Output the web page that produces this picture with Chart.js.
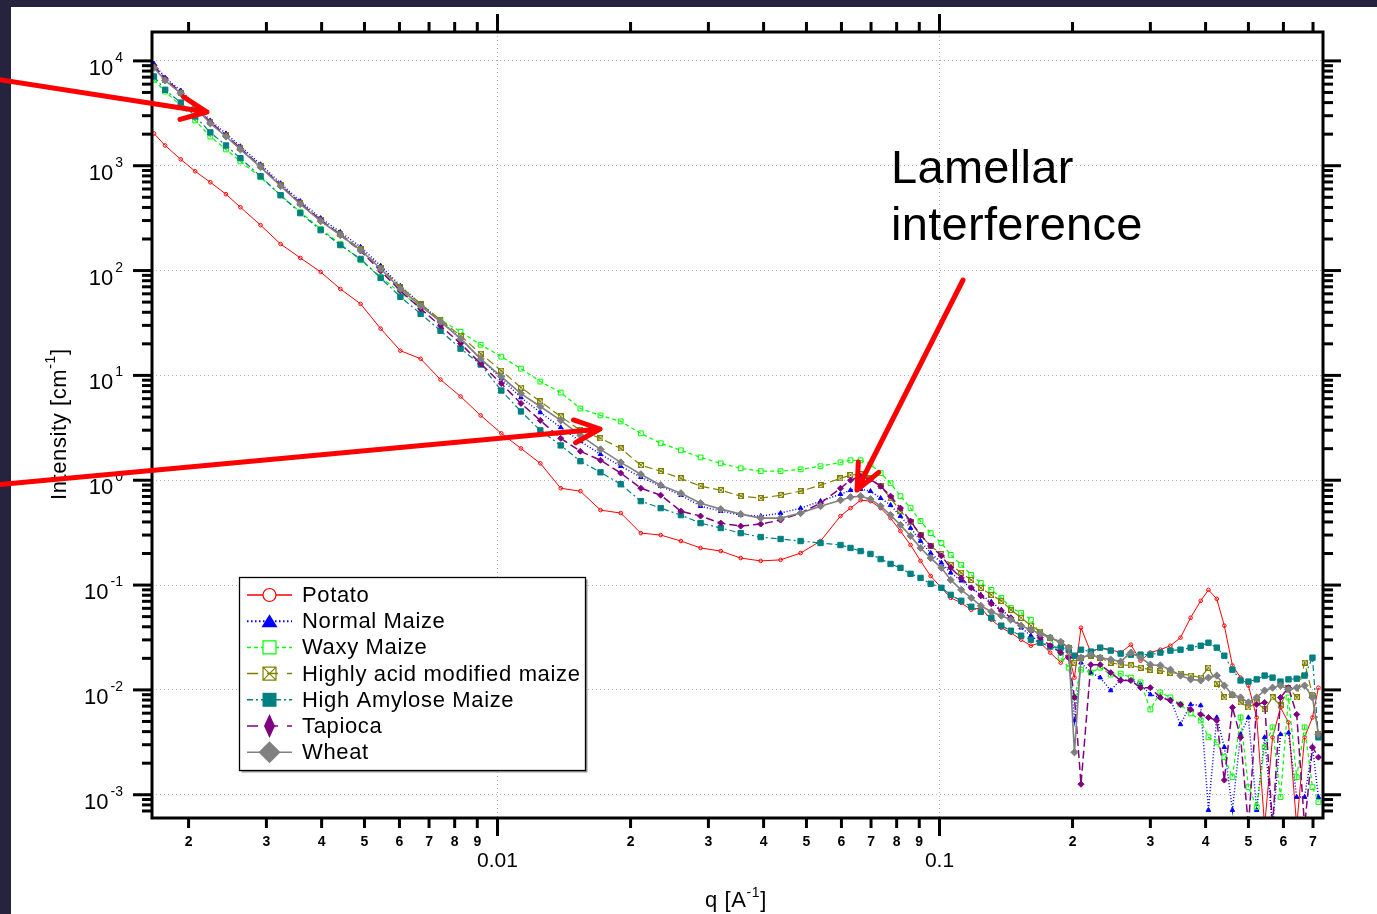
<!DOCTYPE html>
<html>
<head>
<meta charset="utf-8">
<script src="https://cdn.jsdelivr.net/npm/chart.js@4.4.1/dist/chart.umd.min.js"></script>
<style>
  html, body { margin: 0; padding: 0; background: #26233f; overflow: hidden; }
  #wrap { width: 1377px; height: 914px; }
</style>
</head>
<body>
<div id="wrap"><canvas id="saxs" width="1377" height="914"></canvas></div>
<script>
// q [1/A], shared by all samples
const q = [0.00167, 0.00177, 0.00192, 0.00207, 0.00224, 0.00243, 0.00262, 0.00291, 0.00323, 0.00358,
  0.00398, 0.00441, 0.00490, 0.00544, 0.00603, 0.00670, 0.00743, 0.00825, 0.00916, 0.0102,
  0.0113, 0.0125, 0.0139, 0.0154, 0.0171, 0.0190, 0.0211, 0.0234, 0.0260, 0.0288,
  0.0320, 0.0355, 0.0394, 0.0437, 0.0485, 0.0538, 0.0597, 0.0629, 0.0663, 0.0698,
  0.0736, 0.0775, 0.0816, 0.0860, 0.0906, 0.0955, 0.101, 0.106, 0.112, 0.118,
  0.124, 0.131, 0.138, 0.145, 0.153, 0.161, 0.169, 0.178, 0.188, 0.196,
  0.202, 0.209, 0.220, 0.231, 0.244, 0.257, 0.271, 0.285, 0.300, 0.316,
  0.333, 0.351, 0.370, 0.390, 0.406, 0.424, 0.441, 0.460, 0.480, 0.500,
  0.522, 0.544, 0.567, 0.591, 0.616, 0.643, 0.670, 0.698, 0.720]

// intensity [1/cm]
const potato = [2030, 1560, 1150, 885, 695, 535, 402, 271, 179, 132,
  97.0, 66.8, 48.1, 27.9, 17.2, 14.4, 9.12, 6.29, 4.15, 2.80,
  2.01, 1.45, 0.839, 0.786, 0.519, 0.486, 0.313, 0.300, 0.263, 0.226,
  0.211, 0.181, 0.170, 0.174, 0.202, 0.263, 0.455, 0.542, 0.645, 0.632,
  0.542, 0.435, 0.327, 0.241, 0.170, 0.122, 0.0941, 0.0755, 0.0677, 0.0581,
  0.0607, 0.0467, 0.0392, 0.0351, 0.0301, 0.0264, 0.0282, 0.0227, 0.0182, 0.0217,
  0.0131, 0.0392, 0.0227, 0.0253, 0.0242, 0.0227, 0.0270, 0.0190, 0.0227, 0.0242,
  0.0264, 0.0315, 0.0488, 0.0708, 0.0900, 0.0739, 0.0410, 0.0171, 0.0131, 0.0110,
  0.00546, 0.0005, 0.00353, 0.00680, 0.00490, 0.0005, 0.00353, 0.00546, 0.0105]

const normalMaize = [9410, 6900, 5210, 3830, 2700, 2030, 1530, 1030, 680, 459,
  316, 233, 168, 111, 71.4, 48.1, 33.2, 22.4, 14.4, 9.32,
  6.15, 4.43, 3.19, 2.35, 1.77, 1.36, 1.07, 0.877, 0.720, 0.566,
  0.507, 0.465, 0.455, 0.486, 0.542, 0.632, 0.736, 0.803, 0.821, 0.786,
  0.674, 0.579, 0.455, 0.350, 0.263, 0.202, 0.163, 0.131, 0.110, 0.0941,
  0.0807, 0.0692, 0.0581, 0.0488, 0.0392, 0.0329, 0.0282, 0.0264, 0.0227, 0.0203,
  0.00512, 0.0182, 0.0146, 0.0131, 0.00987, 0.0126, 0.0123, 0.0113, 0.00904, 0.00847,
  0.00810, 0.00469, 0.00726, 0.00711, 0.000714, 0.00546, 0.00284, 0.000714, 0.00377, 0.00546,
  0.000714, 0.00353, 0.0005, 0.00377, 0.0039, 0.00095, 0.00095, 0.00284, 0.00095]

const waxyMaize = [6600, 5100, 3750, 2700, 1900, 1430, 1100, 776, 523, 361,
  249, 179, 126, 87.0, 61.2, 45.1, 33.9, 26.1, 19.6, 15.1,
  11.6, 8.73, 6.86, 4.83, 4.15, 3.64, 2.80, 2.25, 1.93, 1.65,
  1.45, 1.30, 1.22, 1.22, 1.27, 1.36, 1.48, 1.55, 1.55, 1.42,
  1.17, 0.936, 0.705, 0.542, 0.408, 0.313, 0.252, 0.194, 0.156, 0.125,
  0.105, 0.0900, 0.0755, 0.0607, 0.0544, 0.0467, 0.0344, 0.0315, 0.0203, 0.0163,
  0.00847, 0.0156, 0.0146, 0.0163, 0.0140, 0.0143, 0.0131, 0.0118, 0.00651, 0.00945,
  0.00847, 0.00726, 0.00597, 0.00512, 0.00353, 0.00316, 0.00228, 0.00147, 0.00546, 0.00118,
  0.000762, 0.00284, 0.00439, 0.00095, 0.00847, 0.00147, 0.00439, 0.00118, 0.000851]

const acidMaize = [8810, 6630, 4990, 3670, 2590, 1950, 1460, 987, 651, 439,
  303, 223, 160, 106, 69.9, 48.1, 33.9, 23.9, 16.1, 11.1,
  7.66, 5.64, 4.06, 2.99, 2.51, 2.01, 1.39, 1.22, 1.04, 0.877,
  0.803, 0.705, 0.674, 0.720, 0.786, 0.896, 1.04, 1.12, 1.14, 1.04,
  0.877, 0.674, 0.507, 0.399, 0.300, 0.236, 0.198, 0.156, 0.131, 0.112,
  0.0941, 0.0807, 0.0708, 0.0581, 0.0488, 0.0410, 0.0359, 0.0315, 0.0282, 0.0253,
  0.0182, 0.0203, 0.0212, 0.0203, 0.0182, 0.0174, 0.0171, 0.0163, 0.0156, 0.0153,
  0.0146, 0.0143, 0.0137, 0.0131, 0.0163, 0.0115, 0.00847, 0.00904, 0.00759, 0.00680,
  0.00759, 0.00651, 0.00847, 0.00711, 0.0105, 0.00847, 0.0182, 0.00904, 0.00377]

const highAmylose = [7100, 5300, 4000, 2950, 2080, 1560, 1180, 793, 523, 353,
  243, 175, 129, 85.0, 56.1, 38.7, 26.7, 18.0, 12.7, 7.17,
  4.53, 2.99, 2.15, 1.52, 1.19, 0.916, 0.632, 0.542, 0.465, 0.390,
  0.350, 0.313, 0.287, 0.275, 0.263, 0.252, 0.241, 0.226, 0.211, 0.198,
  0.177, 0.159, 0.146, 0.128, 0.117, 0.103, 0.0941, 0.0807, 0.0708, 0.0621,
  0.0556, 0.0488, 0.0410, 0.0367, 0.0329, 0.0301, 0.0282, 0.0259, 0.0253, 0.0242,
  0.0212, 0.0242, 0.0232, 0.0253, 0.0237, 0.0222, 0.0217, 0.0217, 0.0217, 0.0227,
  0.0237, 0.0242, 0.0253, 0.0264, 0.0282, 0.0253, 0.0212, 0.0156, 0.0123, 0.0120,
  0.0126, 0.0137, 0.0131, 0.0120, 0.0126, 0.0128, 0.0137, 0.0203, 0.00353]

const tapioca = [9000, 6770, 4990, 3670, 2590, 1950, 1460, 987, 651, 439,
  303, 218, 154, 99.1, 64.0, 43.2, 29.7, 20.1, 12.9, 8.36,
  5.40, 3.72, 2.51, 1.89, 1.55, 1.17, 0.839, 0.720, 0.507, 0.455,
  0.390, 0.365, 0.382, 0.417, 0.486, 0.604, 0.839, 1.00, 1.09, 1.02,
  0.877, 0.705, 0.542, 0.408, 0.300, 0.236, 0.190, 0.146, 0.117, 0.0941,
  0.0789, 0.0663, 0.0568, 0.0488, 0.0410, 0.0367, 0.0315, 0.0264, 0.0227, 0.0203,
  0.00847, 0.00126, 0.0174, 0.0174, 0.0146, 0.0123, 0.0123, 0.0105, 0.0105, 0.00847,
  0.00793, 0.00726, 0.00651, 0.00584, 0.00546, 0.00512, 0.00138, 0.00680, 0.00353, 0.0005,
  0.00726, 0.00759, 0.0005, 0.00847, 0.0105, 0.00584, 0.0005, 0.00284, 0.00228]

const wheat = [8600, 6500, 4900, 3600, 2530, 1900, 1430, 970, 640, 430,
  296, 218, 157, 104, 66.8, 46.1, 32.5, 22.4, 14.4, 9.74,
  6.71, 5.05, 3.72, 2.68, 1.97, 1.48, 1.14, 0.897, 0.752, 0.604,
  0.530, 0.475, 0.435, 0.435, 0.486, 0.566, 0.645, 0.689, 0.705, 0.660,
  0.566, 0.465, 0.373, 0.294, 0.226, 0.181, 0.146, 0.112, 0.0900, 0.0755,
  0.0634, 0.0556, 0.0510, 0.0467, 0.0410, 0.0375, 0.0344, 0.0315, 0.0288, 0.0253,
  0.00254, 0.0203, 0.0217, 0.0203, 0.0195, 0.0186, 0.0227, 0.0203, 0.0174, 0.0171,
  0.0156, 0.0137, 0.0126, 0.0123, 0.0131, 0.0137, 0.0110, 0.00904, 0.00847, 0.00759,
  0.00847, 0.00987, 0.0105, 0.0110, 0.0101, 0.0105, 0.0110, 0.00847, 0.00377]

const seriesNames = ['Potato', 'Normal Maize', 'Waxy Maize', 'Highly acid modified maize',
  'High Amylose Maize', 'Tapioca', 'Wheat']
const seriesValues = [potato, normalMaize, waxyMaize, acidMaize, highAmylose, tapioca, wheat]

// axis ticks
const xMajorTicks = [0.01, 0.1]
const xMajorLabels = ['0.01', '0.1']
const xMinorTicks = [0.002, 0.003, 0.004, 0.005, 0.006, 0.007, 0.008, 0.009,
  0.02, 0.03, 0.04, 0.05, 0.06, 0.07, 0.08, 0.09,
  0.2, 0.3, 0.4, 0.5, 0.6, 0.7]
const xMinorLabels = ['2', '3', '4', '5', '6', '7', '8', '9',
  '2', '3', '4', '5', '6', '7', '8', '9',
  '2', '3', '4', '5', '6', '7']
const yMajorTicks = [1e-3, 1e-2, 1e-1, 1, 10, 100, 1000, 10000]
const yExponents = ['-3', '-2', '-1', '0', '1', '2', '3', '4']
const yMinorDigits = [2, 3, 4, 5, 6, 7, 8, 9]
const yMinorTicks = [7e-4, 8e-4, 9e-4].concat(
  ...yMajorTicks.slice(0, 7).map(d => yMinorDigits.map(m => m * d)))

function boxCross(size, color) {
  const c = document.createElement('canvas')
  c.width = size
  c.height = size
  const g = c.getContext('2d')
  g.strokeStyle = color
  g.lineWidth = 1
  g.strokeRect(0.5, 0.5, size - 1, size - 1)
  g.beginPath()
  g.moveTo(0.5, 0.5); g.lineTo(size - 0.5, size - 0.5)
  g.moveTo(size - 0.5, 0.5); g.lineTo(0.5, size - 0.5)
  g.stroke()
  return c
}

const seriesStyles = [
  { color: '#ff0000', dash: [], width: 1, point: 'circle', radius: 1.8, fill: 'rgba(255,255,255,0)' },
  { color: '#0000ff', dash: [1, 2], width: 1.5, point: 'triangle', radius: 2.6, fill: '#0000ff' },
  { color: '#00ff00', dash: [4, 3], width: 1.2, point: 'rect', radius: 3.4, fill: 'rgba(255,255,255,0)' },
  { color: '#808000', dash: [8, 4], width: 1.2, point: boxCross(6, '#808000'), radius: 3, fill: '#808000' },
  { color: '#008080', dash: [6, 3, 2, 3], width: 1.2, point: 'rect', radius: 3.8, fill: '#008080' },
  { color: '#800080', dash: [8, 4], width: 1.5, point: 'rectRot', radius: 3, fill: '#800080' },
  { color: '#808080', dash: [], width: 1.6, point: 'rectRot', radius: 3.6, fill: '#808080' }
]

const baseFont = '"Liberation Sans", Arial, sans-serif'
const narrowFont = '"Liberation Sans Narrow", "Liberation Sans", Arial, sans-serif'

function drawArrow(ctx, x0, y0, x1, y1) {
  const ang = Math.atan2(y1 - y0, x1 - x0)
  const head = 28
  const spread = 0.42
  ctx.beginPath()
  ctx.moveTo(x0, y0)
  ctx.lineTo(x1, y1)
  ctx.moveTo(x1 - head * Math.cos(ang - spread), y1 - head * Math.sin(ang - spread))
  ctx.lineTo(x1, y1)
  ctx.lineTo(x1 - head * Math.cos(ang + spread), y1 - head * Math.sin(ang + spread))
  ctx.stroke()
}

function legendMarker(ctx, i, cx, cy) {
  const s = seriesStyles[i]
  ctx.setLineDash([])
  ctx.strokeStyle = s.color
  ctx.fillStyle = s.fill
  ctx.lineWidth = 1.2
  ctx.beginPath()
  if (i === 0) {
    ctx.fillStyle = '#ffffff'
    ctx.arc(cx, cy, 6.5, 0, Math.PI * 2)
    ctx.fill(); ctx.stroke()
  } else if (i === 1) {
    ctx.moveTo(cx, cy - 7); ctx.lineTo(cx + 8, cy + 6); ctx.lineTo(cx - 8, cy + 6); ctx.closePath()
    ctx.fill()
  } else if (i === 2) {
    ctx.fillStyle = '#ffffff'
    ctx.rect(cx - 6.5, cy - 6.5, 13, 13)
    ctx.fill(); ctx.stroke()
  } else if (i === 3) {
    ctx.fillStyle = '#ffffff'
    ctx.rect(cx - 6.5, cy - 6.5, 13, 13)
    ctx.moveTo(cx - 6.5, cy - 6.5); ctx.lineTo(cx + 6.5, cy + 6.5)
    ctx.moveTo(cx + 6.5, cy - 6.5); ctx.lineTo(cx - 6.5, cy + 6.5)
    ctx.stroke()
  } else if (i === 4) {
    ctx.rect(cx - 7, cy - 7, 14, 14)
    ctx.fill()
  } else if (i === 5) {
    ctx.moveTo(cx, cy - 12); ctx.lineTo(cx + 5.5, cy); ctx.lineTo(cx, cy + 12); ctx.lineTo(cx - 5.5, cy); ctx.closePath()
    ctx.fill()
  } else {
    ctx.moveTo(cx, cy - 11); ctx.lineTo(cx + 11, cy); ctx.lineTo(cx, cy + 11); ctx.lineTo(cx - 11, cy); ctx.closePath()
    ctx.fill()
  }
}

const igorFrame = {
  id: 'igorFrame',
  beforeDraw(chart) {
    const ctx = chart.ctx
    ctx.save()
    ctx.fillStyle = '#26233f'
    ctx.fillRect(0, 0, chart.width, chart.height)
    ctx.fillStyle = '#ffffff'
    ctx.fillRect(11, 7, chart.width - 11, chart.height - 7)
    ctx.restore()
  },
  afterDatasetsDraw(chart) {
    const { ctx, chartArea: a } = chart
    const xs = chart.scales.x
    const ys = chart.scales.y
    ctx.save()
    ctx.setLineDash([])
    ctx.strokeStyle = '#000'
    ctx.lineWidth = 3
    ctx.strokeRect(a.left, a.top, a.right - a.left, a.bottom - a.top)

    const seg = (x0, y0, x1, y1) => {
      ctx.beginPath(); ctx.moveTo(x0, y0); ctx.lineTo(x1, y1); ctx.stroke()
    }
    yMinorTicks.forEach(v => {
      const p = ys.getPixelForValue(v)
      seg(a.left - 10, p, a.left, p)
      seg(a.right, p, a.right + 10, p)
    })
    yMajorTicks.forEach(v => {
      const p = ys.getPixelForValue(v)
      seg(a.left - 19, p, a.left, p)
      seg(a.right, p, a.right + 18, p)
    })
    xMinorTicks.forEach(v => {
      const p = xs.getPixelForValue(v)
      seg(p, a.bottom, p, a.bottom + 10)
      seg(p, a.top - 10, p, a.top)
    })
    xMajorTicks.forEach(v => {
      const p = xs.getPixelForValue(v)
      seg(p, a.bottom, p, a.bottom + 18)
      seg(p, a.top - 18, p, a.top)
    })

    // tick labels
    ctx.fillStyle = '#000'
    ctx.textBaseline = 'alphabetic'
    yMajorTicks.forEach((v, i) => {
      const p = ys.getPixelForValue(v)
      ctx.font = '14px ' + baseFont
      const ew = ctx.measureText(yExponents[i]).width
      ctx.textAlign = 'left'
      ctx.fillText(yExponents[i], 123 - ew, p + 1)
      ctx.font = '22px ' + baseFont
      ctx.textAlign = 'right'
      ctx.fillText('10', 121 - ew, p + 14)
    })
    ctx.textAlign = 'center'
    ctx.font = 'bold 14px ' + narrowFont
    xMinorTicks.forEach((v, i) => {
      ctx.fillText(xMinorLabels[i], xs.getPixelForValue(v), a.bottom + 28)
    })
    ctx.font = '21px ' + baseFont
    xMajorTicks.forEach((v, i) => {
      ctx.fillText(xMajorLabels[i], xs.getPixelForValue(v), a.bottom + 49)
    })

    // axis titles
    ctx.textAlign = 'left'
    ctx.letterSpacing = '0.6px'
    let tx = 705
    const part = (txt, size, dy) => {
      ctx.font = size + 'px ' + baseFont
      ctx.fillText(txt, tx, 907 + dy)
      tx += ctx.measureText(txt).width
    }
    part('q [A', 22, 0); part('-1', 14, -10); part(']', 22, 0)

    ctx.save()
    ctx.translate(66, 500)
    ctx.rotate(-Math.PI / 2)
    tx = 0
    const vpart = (txt, size, dy) => {
      ctx.font = size + 'px ' + baseFont
      ctx.fillText(txt, tx, dy)
      tx += ctx.measureText(txt).width
    }
    vpart('Intensity [cm', 22, 0); vpart('-1', 14, -11); vpart(']', 22, 0)
    ctx.restore()

    // legend
    const lx = 239.5, ly = 577.5, lw = 346, lh = 193
    ctx.fillStyle = '#9a9a9a'
    ctx.fillRect(lx + 2, ly + 2, lw, lh)
    ctx.fillStyle = '#ffffff'
    ctx.fillRect(lx, ly, lw, lh)
    ctx.strokeStyle = '#000'
    ctx.lineWidth = 1.3
    ctx.strokeRect(lx, ly, lw, lh)
    const legendDash = [[], [1.5, 2.5], [4, 3], [11, 9], [6, 3, 2, 3], [11, 9], []]
    seriesNames.forEach((name, i) => {
      const cy = 595 + i * 26.2
      const s = seriesStyles[i]
      ctx.strokeStyle = s.color
      ctx.lineWidth = i === 1 ? 2 : 1.5
      ctx.setLineDash(legendDash[i])
      seg(247, cy, 292, cy)
      legendMarker(ctx, i, 269.5, cy)
      ctx.fillStyle = '#000'
      ctx.font = '22px ' + baseFont
      ctx.letterSpacing = '0.65px'
      ctx.textAlign = 'left'
      ctx.textBaseline = 'middle'
      ctx.fillText(name, 302, cy + 1)
    })
    ctx.setLineDash([])

    // annotation
    ctx.letterSpacing = '0.3px'
    ctx.textBaseline = 'alphabetic'
    ctx.font = '47px ' + baseFont
    ctx.fillStyle = '#000'
    ctx.fillText('Lamellar', 891, 183)
    ctx.fillText('interference', 891, 240)
    ctx.letterSpacing = '0px'

    ctx.strokeStyle = '#ff0000'
    ctx.lineWidth = 5
    ctx.lineCap = 'round'
    ctx.lineJoin = 'round'
    drawArrow(ctx, -5, 79, 207, 112)
    drawArrow(ctx, -5, 485, 600, 429)
    drawArrow(ctx, 963, 280, 857, 490)
    ctx.restore()
  }
}

const datasets = seriesNames.map((name, i) => {
  const s = seriesStyles[i]
  return {
    label: name,
    data: q.map((qv, k) => ({ x: qv, y: seriesValues[i][k] })),
    borderColor: s.color,
    borderWidth: s.width,
    borderDash: s.dash,
    pointStyle: s.point,
    pointRadius: s.radius,
    pointBackgroundColor: s.fill,
    pointBorderColor: s.color,
    pointBorderWidth: 1,
    fill: false,
    tension: 0,
    order: seriesNames.length - i
  }
})

const gridColor = 'rgba(110,110,235,0.6)'

new Chart(document.getElementById('saxs'), {
  type: 'line',
  data: { datasets },
  options: {
    responsive: false,
    animation: false,
    events: [],
    layout: { padding: { left: 152, right: 54, top: 32, bottom: 96 } },
    plugins: { legend: { display: false }, tooltip: { enabled: false } },
    scales: {
      x: {
        type: 'logarithmic',
        min: 0.001653,
        max: 0.7374,
        afterBuildTicks: s => { s.ticks = xMajorTicks.map(v => ({ value: v })) },
        ticks: { display: false },
        grid: { color: gridColor, lineWidth: 1, drawTicks: false },
        border: { display: false, dash: [1, 3] }
      },
      y: {
        type: 'logarithmic',
        min: 6.46e-4,
        max: 18860,
        afterBuildTicks: s => { s.ticks = yMajorTicks.map(v => ({ value: v })) },
        ticks: { display: false },
        grid: { color: gridColor, lineWidth: 1, drawTicks: false },
        border: { display: false, dash: [1, 3] }
      }
    }
  },
  plugins: [igorFrame]
})
</script>
</body>
</html>
